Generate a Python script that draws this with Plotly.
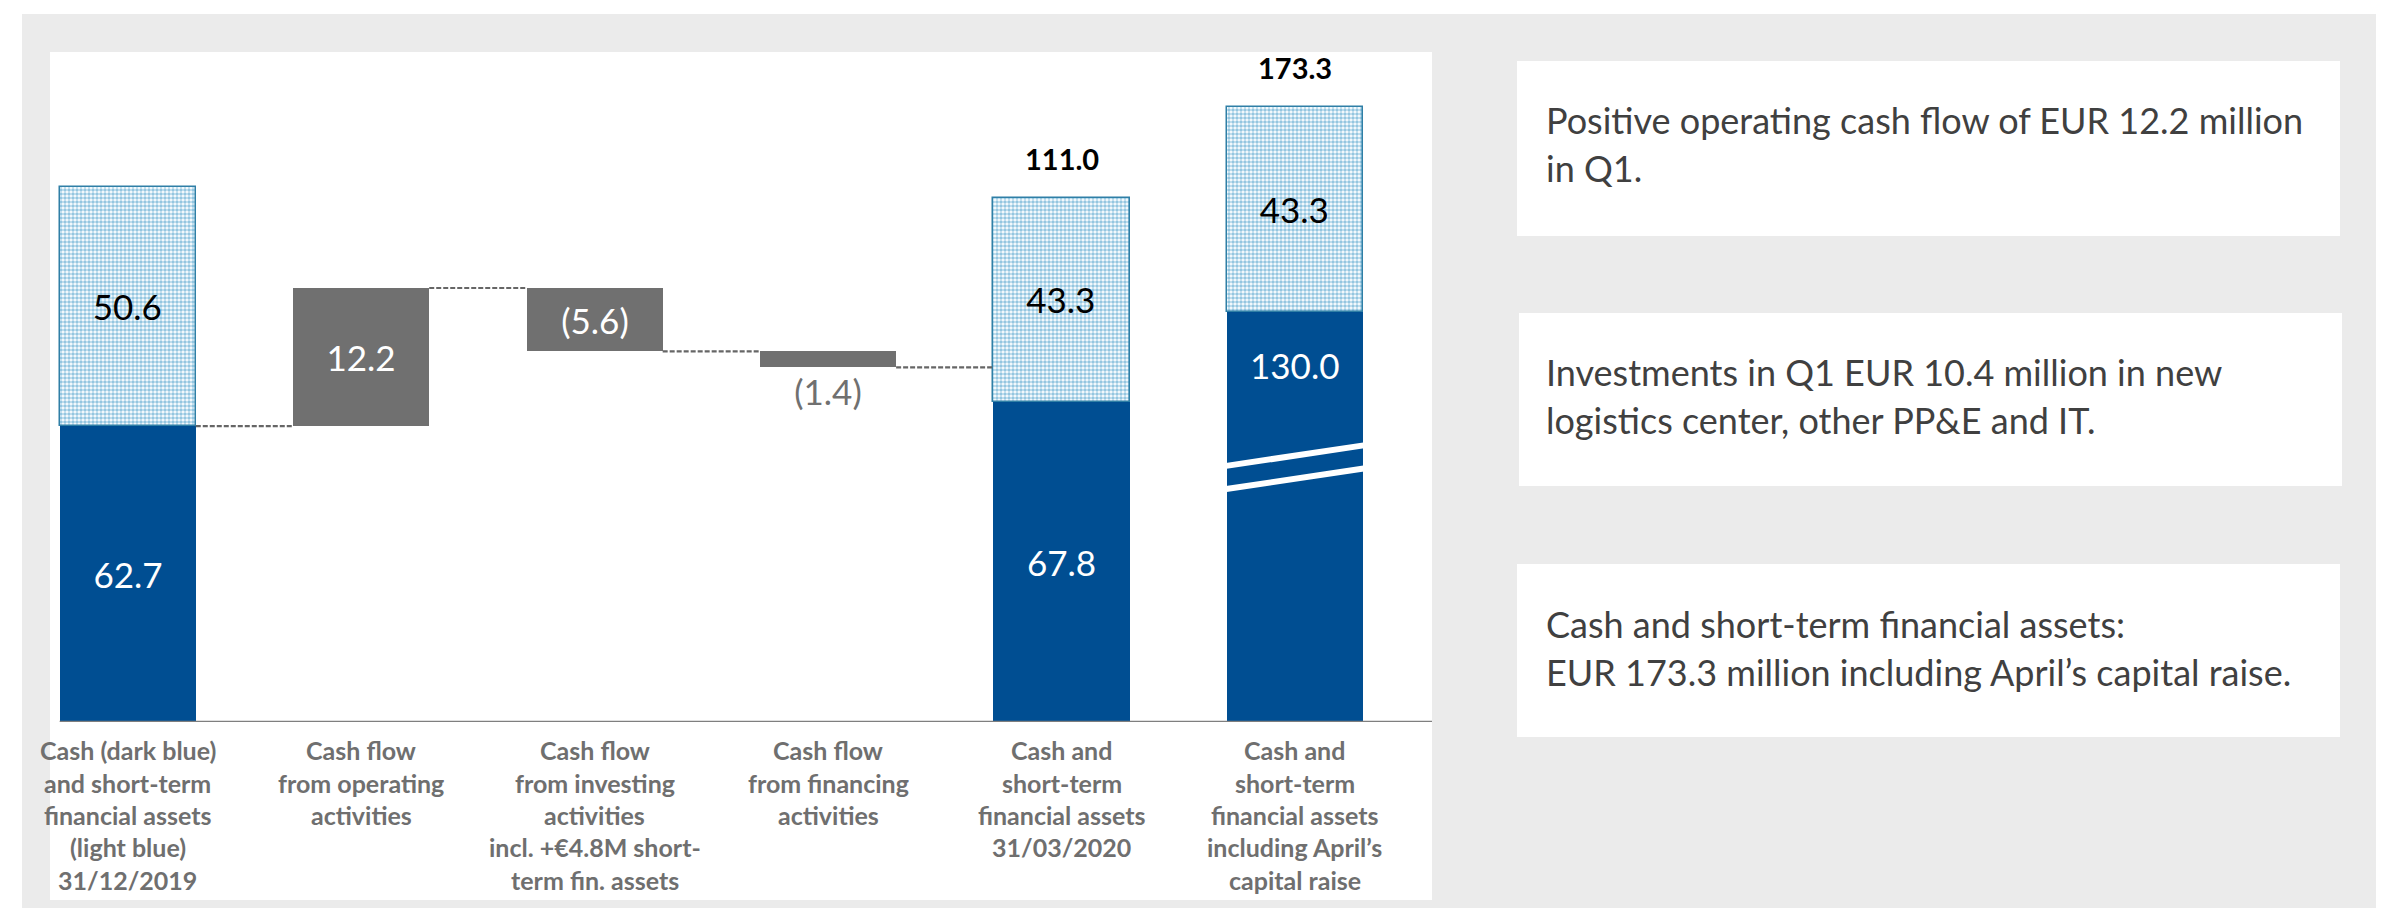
import plotly.graph_objects as go

# ---------------- data ----------------
CATEGORY_LINES = [
    ["Cash (dark blue)", "and short-term", "financial assets", "(light blue)", "31/12/2019"],
    ["Cash flow", "from operating", "activities"],
    ["Cash flow", "from investing", "activities", "incl. +€4.8M short-", "term fin. assets"],
    ["Cash flow", "from financing", "activities"],
    ["Cash and", "short-term", "financial assets", "31/03/2020"],
    ["Cash and", "short-term", "financial assets", "including April’s", "capital raise"],
]
CASH = [62.7, None, None, None, 67.8, 130.0]          # dark blue
ST_ASSETS = [50.6, None, None, None, 43.3, 43.3]     # light blue (dotted)
FLOWS = [None, 12.2, -5.6, -1.4, None, None]         # grey waterfall steps
TOTALS = [None, None, None, None, 111.0, 173.3]      # bold totals above bars
BROKEN = [False, False, False, False, False, True]   # bar drawn with a scale break

NOTES = [
    ["Positive operating cash flow of EUR 12.2 million", "in Q1."],
    ["Investments in Q1 EUR 10.4 million in new", "logistics center, other PP&E and IT."],
    ["Cash and short-term financial assets:", "EUR 173.3 million including April’s capital raise."],
]

# ---------------- style / layout constants ----------------
W, H = 2384, 908
PLOT_L, PLOT_R, PLOT_T, PLOT_B = 3, 1424, 44, 714
Y_MAX = 142.0
X_RANGE = [-0.5, 5.587]
BAR_W = 0.583
FLOW_ZOOM = 2.4          # cash-flow steps drawn magnified (chart is not to scale)
BREAK_CUT = 43.0         # amount hidden by the scale break
BREAK_AT = 54.0
BREAK_GAP = 4.9
BREAK_RISE = 4.45

DARK = "#004e92"
LIGHT_FG = "#2a8dc2"
LIGHT_LINE = "#2f7fa6"
GREY = "#707070"
LABEL_GREY = "#6f6f6f"
NOTE_COLOR = "#404040"
BG = "#ebebeb"
FONT = "Lato"
VALUE_SIZE = 35


def px_x(px):
    return (px - PLOT_L) / (PLOT_R - PLOT_L)


def px_y(py):
    return (PLOT_B - py) / (PLOT_B - PLOT_T)


def fmt_flow(v):
    return f"{v:.1f}" if v >= 0 else f"({abs(v):.1f})"


idx = list(range(len(CATEGORY_LINES)))

# displayed heights for the stacked bars
stack_x, dark_disp, dark_text, light_y, light_text = [], [], [], [], []
for i in idx:
    if CASH[i] is None:
        continue
    d = CASH[i] - (BREAK_CUT if BROKEN[i] else 0.0)
    stack_x.append(i)
    dark_disp.append(d)
    dark_text.append("" if BROKEN[i] else f"{CASH[i]:.1f}")
    light_y.append(ST_ASSETS[i])
    light_text.append(f"{ST_ASSETS[i]:.1f}")
light_base = dark_disp

# waterfall of cash
flow_x, flow_base, flow_y, flow_text = [], [], [], []
level = CASH[0]
levels_after = {0: CASH[0]}
for i in idx:
    if FLOWS[i] is None:
        continue
    flow_x.append(i)
    flow_base.append(level)
    flow_y.append(FLOWS[i])
    flow_text.append(fmt_flow(FLOWS[i]))
    level += FLOWS[i]
    levels_after[i] = level

# secondary (magnified) axis aligned with the primary one at the starting cash level
lo2 = CASH[0] * (1 - 1 / FLOW_ZOOM)
hi2 = lo2 + Y_MAX / FLOW_ZOOM

fig = go.Figure()

fig.add_trace(go.Bar(
    x=stack_x, y=dark_disp, base=[0] * len(stack_x), width=BAR_W,
    marker=dict(color=DARK, line=dict(width=0)),
    text=dark_text, textposition="inside", insidetextanchor="middle",
    constraintext="none",
    insidetextfont=dict(family=FONT, size=VALUE_SIZE, color="white"),
    hoverinfo="skip", showlegend=False,
))
fig.add_trace(go.Bar(
    x=stack_x, y=light_y, base=light_base, width=BAR_W,
    marker=dict(color="white", line=dict(color=LIGHT_LINE, width=1.5),
                pattern=dict(shape=".", fgcolor=LIGHT_FG, bgcolor="white",
                             size=4, solidity=0.65)),
    text=light_text, textposition="inside", insidetextanchor="middle",
    constraintext="none",
    insidetextfont=dict(family=FONT, size=VALUE_SIZE, color="black"),
    hoverinfo="skip", showlegend=False,
))
fig.add_trace(go.Bar(
    x=flow_x, y=flow_y, base=flow_base, width=BAR_W, yaxis="y2",
    marker=dict(color=GREY, line=dict(width=0)),
    text=flow_text, textposition="auto", insidetextanchor="middle",
    insidetextfont=dict(family=FONT, size=VALUE_SIZE, color="white"),
    outsidetextfont=dict(family=FONT, size=VALUE_SIZE, color=GREY),
    cliponaxis=False, hoverinfo="skip", showlegend=False,
))

# dashed connectors of the waterfall
cx, cy = [], []
for i in sorted(levels_after):
    if i + 1 >= len(idx):
        continue
    cx += [i + BAR_W / 2, i + 1 - BAR_W / 2, None]
    cy += [levels_after[i], levels_after[i], None]
fig.add_trace(go.Scatter(
    x=cx, y=cy, yaxis="y2", mode="lines",
    line=dict(color="#666666", width=2.2, dash="5px,2px"),
    hoverinfo="skip", showlegend=False, cliponaxis=False,
))

# scale-break marks on broken bars
bx, by = [], []
for k, i in enumerate(stack_x):
    if not BROKEN[i]:
        continue
    for off in (BREAK_GAP / 2, -BREAK_GAP / 2):
        bx += [i - BAR_W / 2 - 0.01, i + BAR_W / 2 + 0.01, None]
        by += [BREAK_AT + off - BREAK_RISE / 2, BREAK_AT + off + BREAK_RISE / 2, None]
fig.add_trace(go.Scatter(
    x=bx, y=by, mode="lines", line=dict(color="white", width=6),
    hoverinfo="skip", showlegend=False, cliponaxis=False,
))

# baseline
fig.add_trace(go.Scatter(
    x=[-BAR_W / 2, X_RANGE[1]], y=[0, 0], mode="lines",
    line=dict(color="#7f7f7f", width=2.5),
    hoverinfo="skip", showlegend=False, cliponaxis=False,
))

annotations = []
# totals above bars
for k, i in enumerate(stack_x):
    if TOTALS[i] is None:
        continue
    annotations.append(dict(
        x=i, y=dark_disp[k] + light_y[k], xref="x", yref="y",
        text=f"{TOTALS[i]:.1f}", showarrow=False, yanchor="bottom", yshift=20,
        font=dict(family=FONT, size=29, color="black", weight="bold"),
    ))
    if BROKEN[i]:
        brk_top = BREAK_AT + BREAK_GAP / 2 + BREAK_RISE / 2
        ylab = brk_top + 0.6 * (dark_disp[k] - brk_top)
        annotations.append(dict(
            x=i, y=ylab, xref="x", yref="y", text=f"{CASH[i]:.1f}",
            showarrow=False, yanchor="middle",
            font=dict(family=FONT, size=VALUE_SIZE, color="white"),
        ))

# category labels (one annotation per line for exact spacing)
LABEL_TOP, LABEL_STEP = 742, 32.5
for i, lines in enumerate(CATEGORY_LINES):
    for j, line in enumerate(lines):
        annotations.append(dict(
            x=i, xref="x", y=px_y(LABEL_TOP + j * LABEL_STEP), yref="paper",
            text=line, showarrow=False, yanchor="middle", xanchor="center",
            font=dict(family=FONT, size=25, color=LABEL_GREY, weight="bold"),
        ))

# note boxes
NOTE_BOXES = [(1509, 53, 2332, 228), (1511, 305, 2334, 478), (1509, 556, 2332, 729)]
NOTE_LINE_Y = [(112, 160), (364, 412), (616, 664)]
shapes = [
    dict(type="rect", xref="paper", yref="paper", layer="below",
         x0=px_x(14), x1=px_x(W), y0=px_y(H), y1=px_y(6),
         fillcolor=BG, line=dict(width=0)),
    dict(type="rect", xref="paper", yref="paper", layer="below",
         x0=px_x(42), x1=px_x(1424), y0=px_y(892), y1=px_y(44),
         fillcolor="white", line=dict(width=0)),
]
for (x0, y0, x1, y1), lines, ys in zip(NOTE_BOXES, NOTES, NOTE_LINE_Y):
    shapes.append(dict(type="rect", xref="paper", yref="paper", layer="below",
                       x0=px_x(x0), x1=px_x(x1), y0=px_y(y1), y1=px_y(y0),
                       fillcolor="white", line=dict(width=0)))
    for line, yc in zip(lines, ys):
        annotations.append(dict(
            x=px_x(1536), xref="paper", y=px_y(yc), yref="paper",
            text=line, showarrow=False, xanchor="left", yanchor="middle",
            font=dict(family=FONT, size=36, color=NOTE_COLOR),
        ))

fig.update_layout(
    width=W, height=H,
    margin=dict(l=PLOT_L, r=W - PLOT_R, t=PLOT_T, b=H - PLOT_B, pad=0),
    paper_bgcolor="white", plot_bgcolor="rgba(0,0,0,0)",
    barmode="overlay", bargap=0,
    xaxis=dict(range=X_RANGE, showgrid=False, zeroline=False,
               showticklabels=False, ticks="", showline=False, fixedrange=True),
    yaxis=dict(range=[0, Y_MAX], showgrid=False, zeroline=False,
               showticklabels=False, ticks="", showline=False, fixedrange=True),
    yaxis2=dict(range=[lo2, hi2], overlaying="y", showgrid=False, zeroline=False,
                showticklabels=False, ticks="", showline=False, fixedrange=True),
    shapes=shapes, annotations=annotations,
    font=dict(family=FONT),
    uniformtext=dict(mode=False),
)

fig.write_html("out.html", config={"displayModeBar": False})
